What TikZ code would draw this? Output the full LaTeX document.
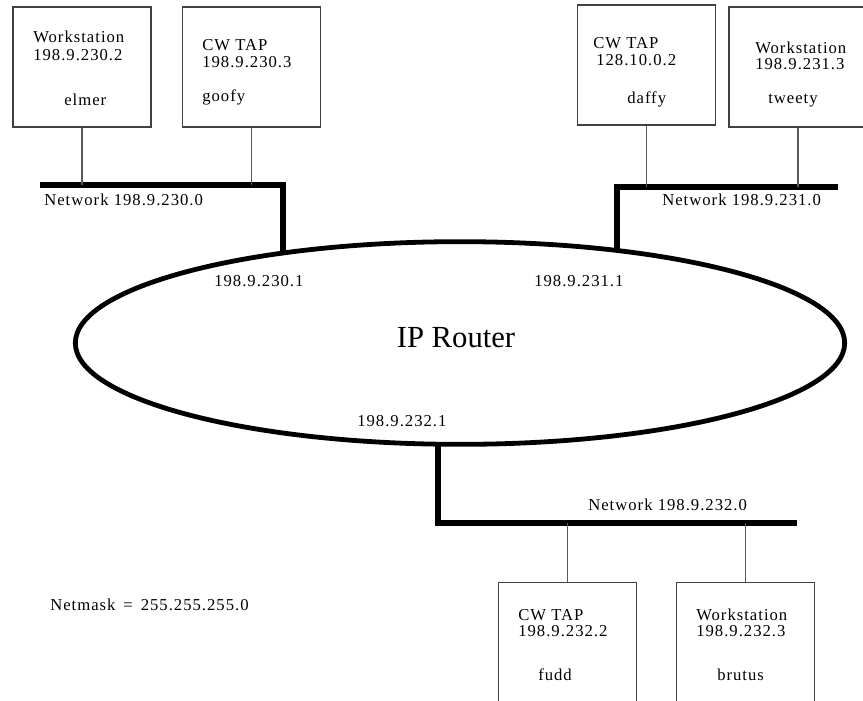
\documentclass[tikz,border=0pt]{standalone}
\usepackage{fontspec}
\setmainfont{Liberation Serif}
\newfontfamily\lblfont[LetterSpace=6]{Liberation Serif}
\usetikzlibrary{shapes.geometric}
\begin{document}
\begin{tikzpicture}[x=0.75pt,y=-0.75pt,
  hostbox/.style={draw=black!75,line width=0.8pt,fill=white,minimum width=103.5pt,minimum height=90pt,inner sep=0pt},
  lbl/.style={font=\lblfont\fontsize{12.5}{14}\selectfont,inner sep=0pt,anchor=west},
  tap/.style={draw=black!65,line width=0.8pt},
  net/.style={line width=4.5pt,line cap=butt},
  router/.style={draw,ellipse,line width=3.6pt,minimum width=577pt,minimum height=152pt,inner sep=0pt}]
\useasboundingbox (0,0) rectangle (863,700);
% hosts
\node[hostbox] (elmer) at (82,67) {};
\node[hostbox] (goofy) at (251.5,67) {};
\node[hostbox] (daffy) at (646.5,65) {};
\node[hostbox] (tweety) at (798,67) {};
\node[hostbox,anchor=north] (fudd) at (567.5,582) {};
\node[hostbox,anchor=north] (brutus) at (745.5,582) {};
% texts
\node[lbl] (t1) at (33,37) {Workstation};
\node[lbl] (t2) at (33,55) {198.9.230.2};
\node[lbl] (t3) at (64,100) {elmer};
\node[lbl] (t4) at (202,45) {CW TAP};
\node[lbl] (t5) at (202,62) {198.9.230.3};
\node[lbl] (t6) at (202,97) {goofy};
\node[lbl] (t7) at (593,43) {CW TAP};
\node[lbl] (t8) at (596,60) {128.10.0.2};
\node[lbl] (t9) at (627,99) {daffy};
\node[lbl] (t10) at (755,48) {Workstation};
\node[lbl] (t11) at (755,64) {198.9.231.3};
\node[lbl] (t12) at (768,101) {tweety};
\node[lbl] (t13) at (518,615) {CW TAP};
\node[lbl] (t14) at (518,631) {198.9.232.2};
\node[lbl] (t15) at (538,675) {fudd};
\node[lbl] (t16) at (696,615) {Workstation};
\node[lbl] (t17) at (696,631) {198.9.232.3};
\node[lbl] (t18) at (717,675) {brutus};
% router
\node[router] (router) at (460,343) {};
\node[font=\fontsize{23}{27}\selectfont,inner sep=0pt] (rt) at (456,338) {IP Router};
\node[lbl] (a1) at (214,281) {198.9.230.1};
\node[lbl] (a2) at (534,281) {198.9.231.1};
\node[lbl] (a3) at (357,421) {198.9.232.1};
% networks
\coordinate (n1l) at (40,185);
\coordinate (n1r) at (283,185);
\coordinate (r1) at (283,253);
\coordinate (n2l) at (617,187);
\coordinate (n2r) at (838,187);
\coordinate (r2) at (617,250);
\coordinate (r3) at (438,444);
\coordinate (n3l) at (438,523);
\coordinate (n3r) at (797,523);
\draw[net] (n1l) -- (n1r) -- (r1);
\draw[net] (r2) -- (n2l) -- (n2r);
\draw[net] (r3) -- (n3l) -- (n3r);
\node[lbl] (nl1) at (44,200) {Network 198.9.230.0};
\node[lbl] (nl2) at (662,200) {Network 198.9.231.0};
\node[lbl] (nl3) at (588,505) {Network 198.9.232.0};
\node[lbl] (nm) at (50,605) {Netmask\ \,=\ \,255.255.255.0};
% taps
\draw[tap] (elmer.south) -- (elmer.south |- n1l);
\draw[tap] (goofy.south) -- (goofy.south |- n1l);
\draw[tap] (daffy.south) -- (daffy.south |- n2l);
\draw[tap] (tweety.south) -- (tweety.south |- n2l);
\draw[tap] (fudd.north) -- (fudd.north |- n3l);
\draw[tap] (brutus.north) -- (brutus.north |- n3l);
\end{tikzpicture}
\end{document}
